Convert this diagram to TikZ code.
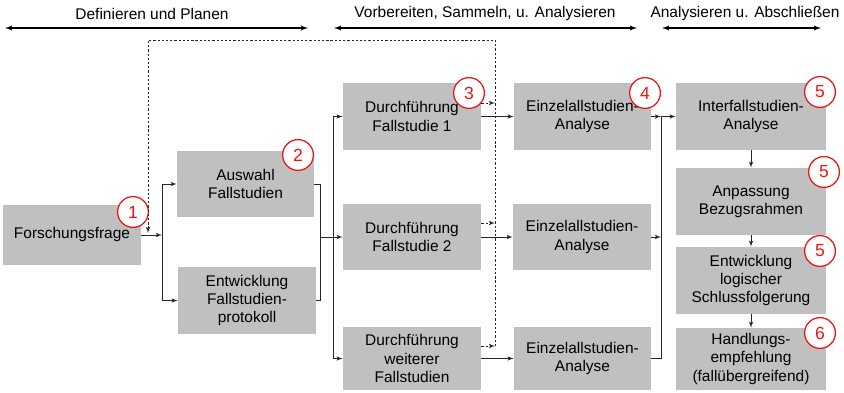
\documentclass[tikz,border=0pt]{standalone}
\usepackage{fontspec}
\setmainfont{Liberation Sans}
\usepackage{tikz}
\usetikzlibrary{arrows}
\usepackage{xcolor}
\definecolor{boxgray}{RGB}{192,192,192}
\definecolor{numred}{RGB}{240,20,20}

\begin{document}
\begin{tikzpicture}[x=0.025cm,y=-0.025cm]

		\tikzset{task/.style 2 args = {shape=rectangle,fill=boxgray,align=center,inner sep=0pt,
			minimum width=#1*0.025cm,minimum height=#2*0.025cm,font=\fontsize{11}{13}\selectfont}}
		\tikzset{num/.style = {shape=circle,draw=numred,fill=white,line width=0.9pt,text=numred,
			inner sep=0pt,minimum size=0.77cm,font=\fontsize{12.5}{14}\selectfont}}
		\tikzset{link/.style = {draw=black!85,line width=0.5pt,> = latex'}}
		\tikzset{back/.style = {link,dash pattern=on 1.6pt off 1.4pt}}
		\tikzset{phase/.style = {<->,> = latex',line width=0.8pt}}
		\useasboundingbox (0,0) rectangle (844,393);
		% phases
		\node[font=\fontsize{11}{13}\selectfont] (p1) at (152,14) {Definieren und Planen};
		\node[font=\fontsize{11}{13}\selectfont] (p2) at (485,14) {Vorbereiten, Sammeln, u. Analysieren};
		\node[font=\fontsize{11}{13}\selectfont] (p3) at (745,14) {Analysieren u. Abschließen};
		\coordinate (a1) at (5,28);   \coordinate (b1) at (308,28);
		\coordinate (a2) at (334,28); \coordinate (b2) at (637,28);
		\coordinate (a3) at (662,28); \coordinate (b3) at (821,28);
		\draw[phase] (a1) -- (b1);
		\draw[phase] (a2) -- (b2);
		\draw[phase] (a3) -- (b3);
		% boxes
		\node[task={138}{60}] (ff) at (72,235) {Forschungsfrage};
		\node[task={137}{66}] (aus) at (245.5,184) {Auswahl\\Fallstudien};
		\node[task={138}{67}] (ent) at (247,300.5) {Entwicklung\\Fallstudien-\\protokoll};
		\node[task={138}{67}] (d1) at (412,116.5) {Durchführung\\Fallstudie 1};
		\node[task={138}{66}] (d2) at (412,237) {Durchführung\\Fallstudie 2};
		\node[task={138}{63}] (d3) at (412,358.5) {Durchführung\\weiterer\\Fallstudien};
		\node[task={137}{67}] (e1) at (582.5,116.5) {Einzelallstudien-\\Analyse};
		\node[task={138}{66}] (e2) at (582,237) {Einzelallstudien-\\Analyse};
		\node[task={137}{63}] (e3) at (582.5,358.5) {Einzelallstudien-\\Analyse};
		\node[task={150}{67}] (ia) at (751,116.5) {Interfallstudien-\\Analyse};
		\node[task={150}{67}] (ap) at (751,201.5) {Anpassung\\Bezugsrahmen};
		\node[task={150}{67}] (el) at (751,280.5) {Entwicklung\\logischer\\Schlussfolgerung};
		\node[task={150}{62}] (he) at (751,359) {Handlungs-\\empfehlung\\(fallübergreifend)};
		% numbers
		\node[num] (n1) at (133,212) {1};
		\node[num] (n2) at (298,155) {2};
		\node[num] (n3) at (469,93) {3};
		\node[num] (n4) at (645,93) {4};
		\node[num] (n5a) at (820,92) {5};
		\node[num] (n5b) at (824,172) {5};
		\node[num] (n5c) at (820,251) {5};
		\node[num] (n6) at (820,333) {6};
		%edges
		\coordinate (j1) at (162,235);
		\coordinate (j2) at (320,237);
		\coordinate (j3) at (333,237);
		\coordinate (j4) at (661,116.5);
		\draw[link,->] (ff) -- (j1);
		\draw[link,->] (j1) |- (aus);
		\draw[link,->] (j1) |- (ent);
		\draw[link] (aus) -| (j2);
		\draw[link] (ent) -| (j2);
		\draw[link] (j2) -- (j3);
		\draw[link,->] (j3) |- (d1);
		\draw[link,->] (j3) -- (d2);
		\draw[link,->] (j3) |- (d3);
		\draw[link,->] (d1) -- (e1);
		\draw[link,->] (d2) -- (e2);
		\draw[link,->] (d3) -- (e3);
		\draw[link,->] (e1) -- (j4);
		\draw[link,->] (j4) -- (ia);
		\draw[link,->] (e2) -- (e2 -| j4);
		\draw[link] (e3) -| (j4);
		\draw[link,->] (ia) -- (ap);
		\draw[link,->] (ap) -- (el);
		\draw[link,->] (el) -- (he);
		% feedback
		\coordinate (r1) at (495,103);
		\coordinate (r2) at (495,223);
		\coordinate (r3) at (495,346);
		\coordinate (tr) at (495,40);
		\coordinate (tl) at (148,40);
		\coordinate (fq) at (148,233);
		\draw[back,->] (d1.east |- r1) -- (r1);
		\draw[back,->] (d2.east |- r2) -- (r2);
		\draw[back,->] (d3.east |- r3) -- (r3);
		\draw[back,->] (r3) -- (tr) -- (tl) -- (fq);
\end{tikzpicture}
\end{document}
